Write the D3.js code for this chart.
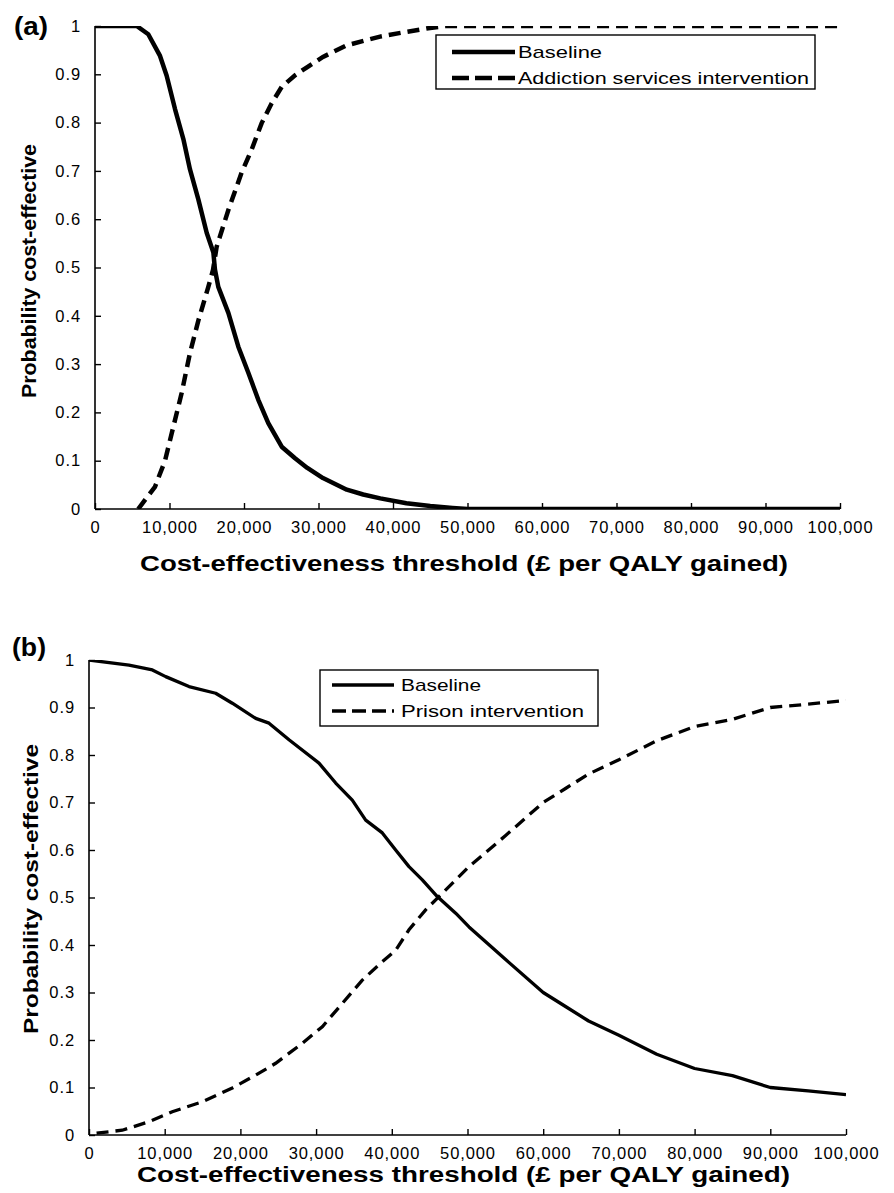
<!DOCTYPE html>
<html>
<head>
<meta charset="utf-8">
<script src="https://cdn.jsdelivr.net/npm/d3@7"></script>
<style>
  html, body { margin: 0; padding: 0; background: #fff; }
  svg { display: block; }
</style>
</head>
<body>
<svg id="chart" width="894" height="1193"></svg>
<script>
// ---------- DATA ----------
const xTicks = [0, 10000, 20000, 30000, 40000, 50000, 60000, 70000, 80000, 90000, 100000];
const xTickLabels = ["0", "10,000", "20,000", "30,000", "40,000", "50,000", "60,000", "70,000", "80,000", "90,000", "100,000"];
const yTicks = [0, 0.1, 0.2, 0.3, 0.4, 0.5, 0.6, 0.7, 0.8, 0.9, 1];
const yTickLabels = ["0", "0.1", "0.2", "0.3", "0.4", "0.5", "0.6", "0.7", "0.8", "0.9", "1"];

// Panel (a)
const baselineA_x = [0, 5600, 7150, 8730, 9620, 10740, 11860, 12750, 13870, 14990, 15890, 16100, 16550, 17900, 19240, 20580, 21920, 23260, 25060, 26850, 28500, 30600, 33800, 36000, 38300, 41800, 45000, 48000, 50000, 100000];
const baselineA_y = [1, 1, 0.983, 0.938, 0.897, 0.828, 0.766, 0.703, 0.641, 0.572, 0.531, 0.496, 0.46, 0.406, 0.336, 0.282, 0.226, 0.178, 0.129, 0.105, 0.085, 0.064, 0.04, 0.03, 0.022, 0.012, 0.006, 0.002, 0, 0];
const addictionA_x = [5800, 8050, 9400, 10510, 11630, 12750, 13870, 15210, 15840, 16330, 17900, 19670, 21000, 22370, 23710, 25060, 26850, 28500, 30600, 33780, 38260, 41830, 44970, 47000, 100000];
const addictionA_y = [0, 0.046, 0.10, 0.17, 0.24, 0.323, 0.39, 0.46, 0.495, 0.543, 0.619, 0.696, 0.743, 0.799, 0.84, 0.874, 0.898, 0.915, 0.936, 0.96, 0.978, 0.988, 0.996, 1, 1];

// Panel (b)
const baselineB_x = [0, 5280, 8370, 10130, 13210, 16730, 18930, 22020, 23780, 26420, 30380, 32590, 34780, 36550, 38750, 40510, 42270, 44030, 46010, 48440, 50200, 55000, 60000, 63000, 66000, 70000, 75000, 80000, 85000, 90000, 95000, 100000];
const baselineB_y = [1, 0.989, 0.979, 0.965, 0.944, 0.93, 0.909, 0.877, 0.867, 0.832, 0.783, 0.741, 0.705, 0.663, 0.636, 0.6, 0.565, 0.537, 0.502, 0.467, 0.438, 0.37, 0.30, 0.27, 0.24, 0.21, 0.17, 0.14, 0.125, 0.10, 0.093, 0.085];
const prisonB_x = [1000, 4400, 7930, 11000, 14970, 18930, 22020, 24660, 28180, 30820, 33460, 36100, 38750, 40510, 42270, 44470, 46230, 48440, 50200, 55000, 60000, 63000, 66000, 70000, 75000, 80000, 85000, 90000, 95000, 100000];
const prisonB_y = [0.004, 0.01, 0.028, 0.049, 0.07, 0.099, 0.126, 0.151, 0.193, 0.228, 0.277, 0.326, 0.365, 0.389, 0.432, 0.474, 0.502, 0.537, 0.565, 0.63, 0.70, 0.73, 0.76, 0.79, 0.83, 0.86, 0.875, 0.90, 0.907, 0.915];

const xTitle = "Cost-effectiveness threshold (£ per QALY gained)";
const yTitle = "Probability cost-effective";

// ---------- DRAW ----------
const svg = d3.select("#chart");
const FONT = "'Liberation Sans', Arial, sans-serif";

function zip(xs, ys) { return xs.map((x, i) => ({ x: x, y: ys[i] })); }

function panel(cfg) {
  const x = d3.scaleLinear().domain([0, 100000]).range([cfg.x0, cfg.x1]);
  const y = d3.scaleLinear().domain([0, 1]).range([cfg.y0, cfg.y1]);
  const g = svg.append("g");

  const clipId = "clip" + cfg.id;
  svg.append("defs").append("clipPath").attr("id", clipId)
    .append("rect").attr("x", cfg.x0).attr("y", cfg.y1)
    .attr("width", cfg.x1 - cfg.x0).attr("height", cfg.y0 - cfg.y1);

  // axes
  const xAxis = d3.axisBottom(x).tickValues(xTicks).tickSize(-6).tickPadding(12)
    .tickFormat((d, i) => xTickLabels[i]);
  const yAxis = d3.axisLeft(y).tickValues(yTicks).tickSize(-6).tickPadding(14)
    .tickFormat((d, i) => yTickLabels[i]);

  const gx = g.append("g").attr("transform", `translate(0,${cfg.y0})`).call(xAxis);
  const gy = g.append("g").attr("transform", `translate(${cfg.x0},0)`).call(yAxis);
  [gx, gy].forEach(a => {
    a.select(".domain").attr("stroke", "#000").attr("stroke-width", 1.6);
    a.selectAll(".tick line").attr("stroke", "#000").attr("stroke-width", 1.4);
    a.selectAll(".tick text").attr("fill", "#000")
      .style("font-family", FONT).style("font-size", "16.5px").style("letter-spacing", "0.9px");
  });
  gx.select(".domain").attr("d", `M${cfg.x0},0H${cfg.x1}`);
  gy.select(".domain").attr("d", `M0,${cfg.y0}V${cfg.y1}`);
  gx.selectAll(".tick text").attr("dy", "0.71em");

  // lines
  const line = d3.line().x(d => x(d.x)).y(d => y(d.y));
  const plot = g.append("g").attr("clip-path", `url(#${clipId})`);
  plot.append("path").datum(zip(cfg.s1x, cfg.s1y)).attr("d", line)
    .attr("fill", "none").attr("stroke", "#000").attr("stroke-width", cfg.lw)
    .attr("stroke-linejoin", "round");
  plot.append("path").datum(zip(cfg.s2x, cfg.s2y)).attr("d", line)
    .attr("fill", "none").attr("stroke", "#000").attr("stroke-width", cfg.lw)
    .attr("stroke-dasharray", cfg.dash);

  // legend
  const L = cfg.legend;
  g.append("rect").attr("x", L.x).attr("y", L.y).attr("width", L.w).attr("height", L.h)
    .attr("fill", "#fff").attr("stroke", "#000").attr("stroke-width", 1.4);
  const names = [cfg.n1, cfg.n2];
  names.forEach((nm, i) => {
    const ly = L.y + L.r[i];
    g.append("line").attr("x1", L.lx0).attr("x2", L.lx1).attr("y1", ly).attr("y2", ly)
      .attr("stroke", "#000").attr("stroke-width", cfg.lw)
      .attr("stroke-dasharray", i === 1 ? L.dash : null);
    g.append("text").attr("x", L.tx).attr("y", ly + 6).text(nm)
      .attr("textLength", L.tl[i]).attr("lengthAdjust", "spacingAndGlyphs")
      .style("font-family", FONT).style("font-size", "17px").attr("fill", "#000");
  });

  // titles
  g.append("text").attr("x", cfg.xt.x).attr("y", cfg.xt.y).text(xTitle)
    .attr("textLength", cfg.xt.len).attr("lengthAdjust", "spacingAndGlyphs")
    .style("font-family", FONT).style("font-size", "22px").style("font-weight", "bold");
  g.append("text").attr("transform", `translate(${cfg.yt.x},${cfg.yt.y}) rotate(-90)`)
    .attr("text-anchor", "middle").text(yTitle)
    .attr("textLength", cfg.yt.len).attr("lengthAdjust", "spacingAndGlyphs")
    .style("font-family", "'Liberation Sans Narrow', " + FONT).style("font-size", "21px").style("font-weight", "bold");
  g.append("text").attr("x", cfg.lab.x).attr("y", cfg.lab.y).text(cfg.lab.t)
    .attr("textLength", 34).attr("lengthAdjust", "spacingAndGlyphs")
    .style("font-family", FONT).style("font-size", "26px").style("font-weight", "bold");
}

panel({
  id: "a", x0: 95, x1: 840, y0: 509, y1: 26, lw: 4.5, dash: "12,7",
  s1x: baselineA_x, s1y: baselineA_y, s2x: addictionA_x, s2y: addictionA_y,
  n1: "Baseline", n2: "Addiction services intervention",
  legend: { x: 436, y: 35, w: 379, h: 54, r: [17, 43], lx0: 452, lx1: 515, tx: 518, tl: [84, 291], dash: "17,6" },
  xt: { x: 140, y: 571, len: 648 },
  yt: { x: 36, y: 271, len: 254 },
  lab: { x: 14, y: 35, t: "(a)" }
});

panel({
  id: "b", x0: 89, x1: 846, y0: 1135, y1: 660, lw: 3.3, dash: "12,7",
  s1x: baselineB_x, s1y: baselineB_y, s2x: prisonB_x, s2y: prisonB_y,
  n1: "Baseline", n2: "Prison intervention",
  legend: { x: 320, y: 670, w: 278, h: 56, r: [15, 41], lx0: 332, lx1: 394, tx: 401, tl: [80, 183], dash: "14,6" },
  xt: { x: 137, y: 1182, len: 653 },
  yt: { x: 38, y: 889, len: 290 },
  lab: { x: 12, y: 656, t: "(b)" }
});
</script>
</body>
</html>
